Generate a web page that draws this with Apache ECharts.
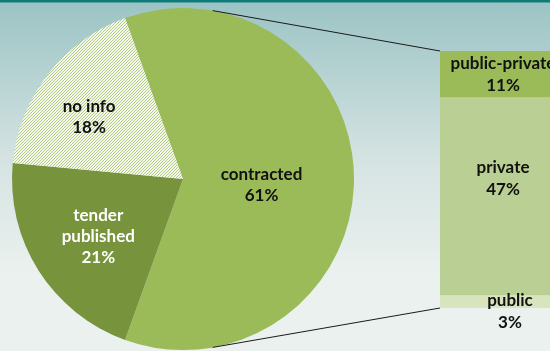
<!DOCTYPE html>
<html>
<head>
<meta charset="utf-8">
<script src="https://cdn.jsdelivr.net/npm/echarts@6/dist/echarts.min.js"></script>
<style>
html,body{margin:0;padding:0;}
#c{width:550px;height:351px;background:linear-gradient(to bottom,#0E7C78 0px,#0E7C78 2px,#9CC4C4 3px,#D4E3E2 45%,#EBF1EF 78%,#EBF1EF 100%);}
</style>
</head>
<body>
<div id="c"></div>
<script>
// ---- data ----
var pieCategories = ['contracted', 'tender published', 'no info'];
var pieLabels = ['contracted', 'tender\npublished', 'no info'];
var pieValues = [61, 21, 18];
var barCategories = ['public', 'private', 'public-private']; // bottom to top
var barValues = [3, 47, 11];

// ---- styling ----
var FONT = 'Lato';
var FS = 17;
var pieColors = ['#9BBB59', '#77933C', null];
var barColors = ['#D7E4BD', '#B9CF94', '#9BBB59'];

// hatch pattern for "no info"
var pc = document.createElement('canvas');
pc.width = 3; pc.height = 3;
var px = pc.getContext('2d');
px.fillStyle = '#F4F7EC';
px.fillRect(0, 0, 3, 3);
px.fillStyle = '#B5CC86';
px.fillRect(2, 0, 1, 1);
px.fillRect(1, 1, 1, 1);
px.fillRect(0, 2, 1, 1);
pieColors[2] = { image: pc, repeat: 'repeat' };

var chart = echarts.init(document.getElementById('c'), null, { renderer: 'canvas' });

var CX = 183, CY = 179, R = 171;
var pieTotal = pieValues.reduce(function (a, b) { return a + b; }, 0);
var startAngle = (pieValues[0] / pieTotal) * 360 / 2;

var pieLabelShift = [[-5, 3], [-5, 5], [-12, -4]];
var barLabelShift = [[15, 10], [8, -18], [8, 0]];

var pieData = pieCategories.map(function (n, i) {
  return {
    name: n,
    value: pieValues[i],
    itemStyle: { color: pieColors[i] },
    label: {
      formatter: pieLabels[i] + '\n{d}%',
      color: i === 1 ? '#FFFFFF' : '#111111'
    }
  };
});

var barSeries = barCategories.map(function (n, i) {
  return {
    type: 'bar',
    name: n,
    stack: 'total',
    data: [barValues[i]],
    barWidth: '100%',
    itemStyle: { color: barColors[i] },
    label: {
      show: true,
      position: 'inside',
      formatter: n + '\n' + barValues[i] + '%',
      fontFamily: FONT,
      fontWeight: 'bold',
      fontSize: FS,
      lineHeight: 22,
      color: '#111111',
      offset: barLabelShift[i]
    },
    silent: true
  };
});

var option = {
  animation: false,
  grid: { left: 440, top: 51, width: 130, height: 257 },
  xAxis: { type: 'category', data: ['split'], show: false, boundaryGap: true },
  yAxis: { type: 'value', min: 0, max: barValues.reduce(function (a, b) { return a + b; }, 0), show: false },
  series: [{
    type: 'pie',
    center: [CX, CY],
    radius: [0, R],
    startAngle: startAngle,
    clockwise: true,
    silent: true,
    data: pieData,
    label: {
      show: true,
      position: 'inside',
      fontFamily: FONT,
      fontWeight: 'bold',
      fontSize: FS,
      lineHeight: 21,
      align: 'center'
    },
    labelLine: { show: false },
    labelLayout: function (p) {
      var s = pieLabelShift[p.dataIndex];
      return { dx: s[0], dy: s[1] };
    }
  }].concat(barSeries)
};
chart.setOption(option);

// connector lines from pie edge to bar corners
var barLeftTop = chart.convertToPixel({ gridIndex: 0 }, [0, option.yAxis.max]);
var barLeftBot = chart.convertToPixel({ gridIndex: 0 }, [0, 0]);
var bx = option.grid.left;
var a = 80 * Math.PI / 180;
var p1 = [CX + R * Math.cos(a), CY - R * Math.sin(a)];
var p2 = [CX + R * Math.cos(a), CY + R * Math.sin(a)];
chart.setOption({
  graphic: [
    { type: 'line', shape: { x1: p1[0], y1: p1[1], x2: bx, y2: barLeftTop[1] }, style: { stroke: '#1a1a1a', lineWidth: 1 }, z: 100 },
    { type: 'line', shape: { x1: p2[0], y1: p2[1], x2: bx, y2: barLeftBot[1] }, style: { stroke: '#1a1a1a', lineWidth: 1 }, z: 100 }
  ]
});
</script>
</body>
</html>
